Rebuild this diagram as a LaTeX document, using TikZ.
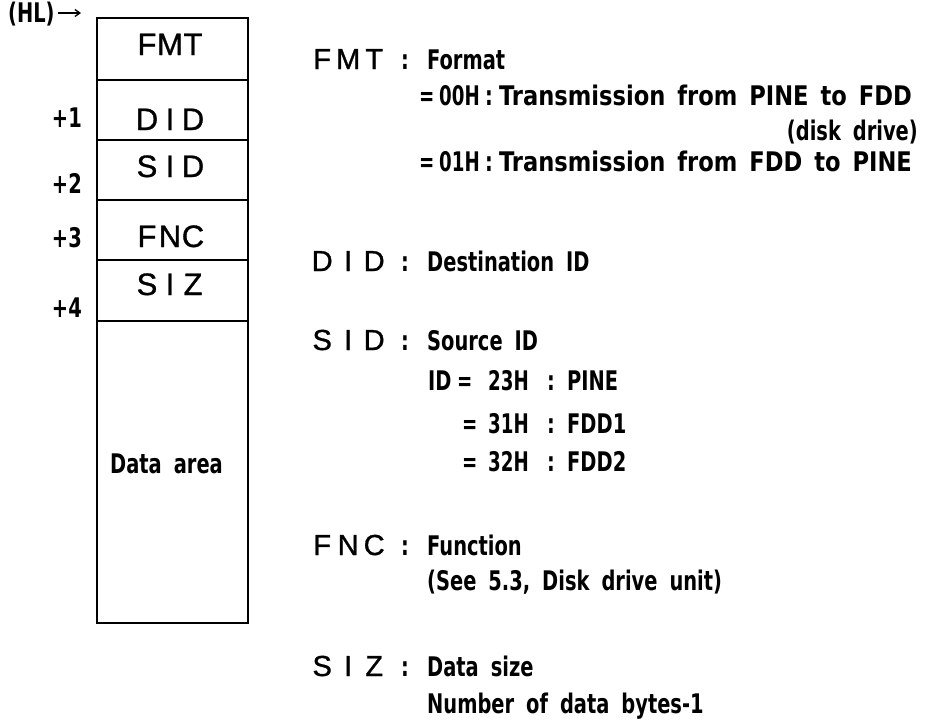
\documentclass[tikz,border=0pt]{standalone}
\usepackage{fontspec}
\setmainfont{Liberation Sans}
\newfontfamily\descfont[FakeStretch=0.8]{DejaVu Sans Condensed Bold}
\newfontfamily\descwidefont[FakeStretch=0.93]{DejaVu Sans Condensed Bold}
\newfontfamily\descnarrowfont[FakeStretch=0.75]{DejaVu Sans Condensed Bold}
\newfontfamily\mnfont[FakeBold=1]{Liberation Sans}
\usetikzlibrary{arrows.meta}
\newlength\cw
\newcommand\cells[3]{\makebox[\cw][c]{#1}\makebox[\cw][c]{#2}\makebox[\cw][c]{#3}}
\newcommand\descsetup{\descfont\fontsize{27}{27}\selectfont\spaceskip=12pt plus 0pt minus 0pt\relax}
\newcommand\descwidesetup{\descwidefont\fontsize{27}{27}\selectfont\spaceskip=12pt plus 0pt minus 0pt\relax}
\newcommand\descnarrowsetup{\descnarrowfont\fontsize{27}{27}\selectfont}
\newcommand\boxsetup{\mnfont\fontsize{31}{31}\selectfont\setlength\cw{23pt}}
\newcommand\rmnsetup{\mnfont\fontsize{29}{29}\selectfont\setlength\cw{26pt}}
\begin{document}
\begin{tikzpicture}[x=1pt,y=-1pt,
  desc/.style={font=\descsetup, inner sep=0pt, anchor=base west},
  descwide/.style={desc, font=\descwidesetup},
  hexval/.style={desc, font=\descnarrowsetup},
  descr/.style={desc, anchor=base east},
  boxmn/.style={font=\boxsetup, inner sep=0pt, anchor=base},
  rmn/.style={font=\rmnsetup, inner sep=0pt, anchor=base west},
  cell/.style={draw, line width=1.6pt, minimum width=151pt, inner sep=0pt}]
\useasboundingbox (0,0) rectangle (925,720);

% memory block
\node[cell, minimum height=62pt]  (c0) at (172.5,49) {};
\node[cell, minimum height=60pt]  (c1) at (172.5,110) {};
\node[cell, minimum height=60pt]  (c2) at (172.5,170) {};
\node[cell, minimum height=60pt]  (c3) at (172.5,230) {};
\node[cell, minimum height=61pt]  (c4) at (172.5,290.5) {};
\node[cell, minimum height=302pt] (c5) at (172.5,472) {};

\node[boxmn] (bfmt) at (170,55)  {\cells{F}{M}{T}};
\node[boxmn] (bdid) at (170,130) {\cells{D}{I}{D}};
\node[boxmn] (bsid) at (170,177) {\cells{S}{I}{D}};
\node[boxmn] (bfnc) at (170,247) {\cells{F}{N}{C}};
\node[boxmn] (bsiz) at (170,295) {\cells{S}{I}{Z}};
\node[desc] (bdata) at (110,473) {Data area};

\node[desc] (hl) at (8,22) {(HL)};
\coordinate (hlend) at (81,13);
\draw[line width=1.3pt, -{Straight Barb[length=5pt,width=7pt]}] (hl.east |- hlend) ++(3,0) -- (hlend);
\node[descr] (o1) at (82,127) {+1};
\node[descr] (o2) at (82,193) {+2};
\node[descr] (o3) at (82,247) {+3};
\node[descr] (o4) at (82,317) {+4};

% FMT
\node[rmn] (rfmt) at (309,69) {\cells{F}{M}{T}};
\node[desc] (kfmt) at (401,69) {:};
\node[desc] (dfmt) at (427,69) {Format};
\node[hexval] (e0) at (419,105) {=};
\node[hexval] (v0) at (439,105) {00H};
\node[desc] (k0) at (485,105) {:};
\node[descwide] (t0) at (499,105) {Transmission from PINE to FDD};
\node[descr] (t0b) at (918,140) {(disk drive)};
\node[hexval] (e1) at (419,171) {=};
\node[hexval] (v1) at (439,171) {01H};
\node[desc] (k1) at (485,171) {:};
\node[descwide] (t1) at (499,171) {Transmission from FDD to PINE};

% DID
\node[rmn] (rdid) at (309,271) {\cells{D}{I}{D}};
\node[desc] (kdid) at (401,271) {:};
\node[desc] (ddid) at (427,271) {Destination ID};

% SID
\node[rmn] (rsid) at (309,350) {\cells{S}{I}{D}};
\node[desc] (ksid) at (401,350) {:};
\node[desc] (dsid) at (427,350) {Source ID};
\node[desc] (id0) at (428,390) {ID};
\node[hexval] (ie0) at (457,390) {=};
\node[hexval] (iv0) at (488,390) {23H};
\node[desc] (ik0) at (547,390) {:};
\node[desc] (in0) at (567,390) {PINE};
\node[hexval] (ie1) at (462,433) {=};
\node[hexval] (iv1) at (488,433) {31H};
\node[desc] (ik1) at (547,433) {:};
\node[desc] (in1) at (567,433) {FDD1};
\node[hexval] (ie2) at (462,471) {=};
\node[hexval] (iv2) at (488,471) {32H};
\node[desc] (ik2) at (547,471) {:};
\node[desc] (in2) at (567,471) {FDD2};

% FNC
\node[rmn] (rfnc) at (309,555) {\cells{F}{N}{C}};
\node[desc] (kfnc) at (401,555) {:};
\node[desc] (dfnc) at (427,555) {Function};
\node[desc] (sfnc) at (427,590) {(See 5.3, Disk drive unit)};

% SIZ
\node[rmn] (rsiz) at (309,676) {\cells{S}{I}{Z}};
\node[desc] (ksiz) at (401,676) {:};
\node[desc] (dsiz) at (427,676) {Data size};
\node[desc] (ssiz) at (427,713) {Number of data bytes-1};
\end{tikzpicture}
\end{document}
